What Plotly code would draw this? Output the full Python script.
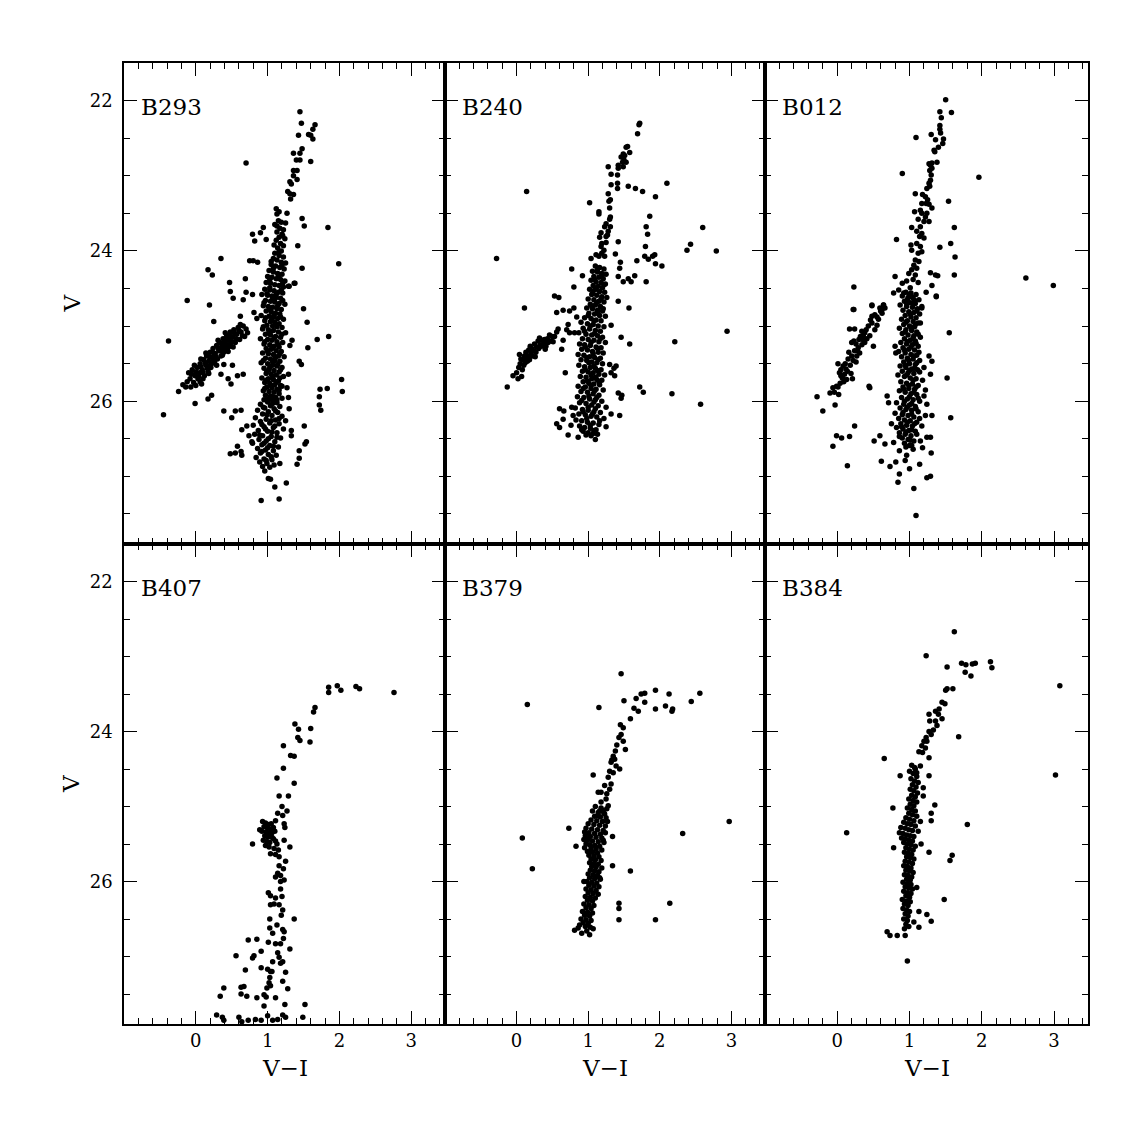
import plotly.graph_objects as go

# ---------------- data (V-I, V) ----------------
panel_names = ["B293", "B240", "B012", "B407", "B379", "B384"]

b293 = [
    # upper RGB
    (1.45,22.15),(1.47,22.30),(1.66,22.32),(1.63,22.38),(1.57,22.45),(1.60,22.46),(1.43,22.46),(1.63,22.51),
    (1.36,22.70),(1.45,22.70),(1.48,22.64),(1.40,22.79),(1.45,22.79),(1.60,22.81),(0.70,22.83),(1.36,22.93),
    (1.41,22.93),(1.36,23.00),(1.41,23.05),(1.31,23.08),(1.33,23.11),(1.28,23.21),(1.31,23.24),(1.36,23.25),
    (1.32,23.31),(1.12,23.44),(1.16,23.48),(1.27,23.50),(1.13,23.51),(1.48,23.57),(1.51,23.67),(1.84,23.69),
    # V 23.6-24.5
    (1.15,23.60),(1.19,23.62),(1.10,23.65),(1.25,23.63),(1.17,23.70),(1.22,23.72),(1.13,23.75),(1.20,23.78),
    (1.16,23.82),(1.24,23.84),(1.12,23.86),(1.18,23.90),(1.22,23.93),(1.14,23.96),(1.19,24.00),(1.10,24.03),
    (1.16,24.06),(1.22,24.08),(1.08,24.10),(1.13,24.12),(1.19,24.15),(1.25,24.16),(1.05,24.18),(1.11,24.20),
    (1.17,24.22),(1.23,24.24),(1.02,24.26),(1.08,24.28),(1.14,24.30),(1.20,24.31),(1.00,24.34),(1.06,24.35),
    (1.12,24.37),(1.18,24.38),(1.24,24.40),(0.98,24.42),(1.04,24.43),(1.10,24.45),(1.16,24.46),(1.22,24.48),
    (1.13,23.67),(1.21,23.80),(1.09,23.92),(1.16,24.01),(1.05,24.14),(1.20,24.19),(1.08,24.23),(1.15,24.33),
    (1.03,24.38),(1.21,24.43),
    (0.79,23.78),(0.90,23.76),(0.94,23.69),(0.82,23.87),(0.98,23.85),(1.42,23.93),(1.48,24.23),(1.99,24.17),
    (0.35,24.10),(0.17,24.25),(0.23,24.32),(0.75,24.13),(0.80,24.13),(0.86,24.15),(0.69,24.37),(1.37,24.43),
    (1.29,24.47),(0.47,24.42),(0.48,24.54),(1.30,24.47),(1.38,24.43),
    # main column 24.5-26.0
    (0.96,24.51),(1.03,24.52),(1.09,24.53),(1.15,24.55),(1.21,24.56),(0.92,24.58),(1.00,24.59),(1.06,24.60),
    (1.12,24.62),(1.18,24.63),(0.97,24.66),(1.04,24.67),(1.10,24.68),(1.16,24.70),(1.24,24.71),(0.94,24.73),
    (1.01,24.74),(1.07,24.75),(1.13,24.77),(1.19,24.78),(0.98,24.80),(1.05,24.81),(1.11,24.83),(1.17,24.84),
    (0.91,24.86),(1.02,24.87),(1.08,24.88),(1.14,24.90),(1.22,24.91),(0.96,24.93),(1.04,24.94),(1.10,24.95),
    (1.16,24.97),(0.99,24.99),(1.07,25.00),(1.13,25.01),(1.20,25.02),
    (0.93,25.04),(1.01,25.05),(1.08,25.06),(1.15,25.08),(1.25,25.09),(0.97,25.11),(1.04,25.12),(1.11,25.14),
    (1.18,25.15),(0.90,25.17),(1.00,25.18),(1.06,25.19),(1.13,25.21),(1.21,25.22),(0.95,25.24),(1.03,25.25),
    (1.09,25.27),(1.16,25.28),(0.98,25.30),(1.05,25.31),(1.12,25.33),(1.19,25.34),(0.93,25.36),(1.01,25.37),
    (1.08,25.38),(1.15,25.40),(1.23,25.41),(0.97,25.43),(1.04,25.44),(1.10,25.46),(1.17,25.47),(0.91,25.49),
    (1.00,25.50),
    (1.07,25.52),(1.13,25.53),(1.20,25.55),(0.95,25.56),(1.02,25.58),(1.09,25.59),(1.16,25.61),(0.98,25.63),
    (1.05,25.64),(1.12,25.65),(1.22,25.67),(0.92,25.69),(1.01,25.70),(1.08,25.71),(1.15,25.73),(0.96,25.75),
    (1.03,25.76),(1.10,25.78),(1.18,25.79),(0.99,25.81),(1.06,25.82),(1.13,25.84),(0.94,25.86),(1.02,25.87),
    (1.09,25.88),(1.16,25.90),(0.97,25.92),(1.04,25.93),(1.11,25.95),(1.20,25.96),(0.95,25.98),(1.07,25.99),
    (1.03,24.49),(1.19,24.52),(0.99,24.57),(1.12,24.58),(1.07,24.64),(1.21,24.66),(0.95,24.69),(1.14,24.73),
    (1.03,24.78),(1.09,24.85),(0.97,24.89),(1.18,24.88),(1.06,24.92),(1.12,24.98),(0.94,25.01),(1.03,25.09),
    (1.20,25.11),(1.09,25.16),(0.96,25.21),(1.15,25.25),(1.07,25.29),(1.00,25.34),(1.17,25.37),(1.11,25.42),
    (0.94,25.46),(1.07,25.48),(1.14,25.51),(1.03,25.55),(1.18,25.58),(0.99,25.60),(1.07,25.67),(1.17,25.69),
    (0.98,25.72),(1.12,25.75),(1.05,25.79),(0.96,25.83),(1.16,25.85),(1.07,25.94),(1.01,25.97),(1.13,25.98),
    # lower, wider part
    (1.00,26.01),(1.13,26.02),(0.90,26.04),(1.04,26.06),(1.17,26.07),(0.96,26.09),(1.09,26.10),(0.86,26.12),
    (1.01,26.14),(1.14,26.15),(0.93,26.17),(1.06,26.19),(1.20,26.20),(0.83,26.22),(0.98,26.24),(1.11,26.25),
    (0.90,26.27),(1.03,26.29),(1.16,26.30),(0.80,26.32),(0.95,26.34),(1.08,26.35),(1.22,26.37),(0.87,26.39),
    (1.00,26.40),(1.13,26.42),(0.82,26.44),(0.93,26.46),(1.05,26.47),(1.18,26.49),(0.88,26.51),(0.98,26.53),
    (1.10,26.54),(0.79,26.56),(0.92,26.58),(1.03,26.59),(1.15,26.61),(0.86,26.63),(0.97,26.65),(1.08,26.66),
    (0.90,26.69),(1.01,26.71),(1.12,26.72),(0.84,26.75),(0.95,26.77),(1.06,26.78),(0.89,26.81),(0.99,26.83),
    (0.93,26.87),(1.03,26.88),(0.96,26.93),(1.01,27.03),(1.04,27.04),(1.10,27.14),(0.91,27.32),(1.16,27.30),
    (1.07,26.03),(0.94,26.08),(1.11,26.13),(0.99,26.18),(1.16,26.23),(1.05,26.26),(0.92,26.31),(1.10,26.33),
    (0.97,26.37),(1.06,26.41),(0.89,26.45),(1.13,26.48),(1.01,26.50),(0.95,26.56),(1.08,26.60),(1.00,26.62),
    (0.92,26.67),(1.05,26.74),(0.98,26.79),(1.09,26.85),
    # blue horizontal-branch arm
    (-0.24,25.87),(-0.14,25.81),(-0.10,25.62),(-0.08,25.70),(-0.05,25.58),(-0.03,25.75),(-0.01,25.66),(0.02,25.55),
    (0.03,25.70),(0.05,25.62),(0.06,25.50),(0.08,25.77),(0.09,25.58),(0.11,25.45),(0.12,25.66),(0.14,25.52),
    (0.15,25.40),(0.17,25.60),(0.18,25.47),(0.20,25.35),(0.21,25.55),(0.23,25.42),(0.24,25.30),(0.26,25.48),
    (0.27,25.37),(0.29,25.26),(0.30,25.44),(0.32,25.33),(0.33,25.22),(0.35,25.40),(0.36,25.28),(0.38,25.17),
    (0.39,25.35),(0.41,25.24),(0.43,25.13),(0.44,25.30),(0.46,25.19),(0.48,25.08),(0.49,25.27),(0.51,25.15),
    (0.53,25.05),(0.55,25.22),(0.57,25.11),(0.59,25.02),(0.61,25.18),(0.63,25.08),(0.66,25.00),(0.68,25.14),
    (0.70,25.04),(0.00,25.61),(0.07,25.54),(0.13,25.49),(0.19,25.41),(0.25,25.36),(0.31,25.29),(0.37,25.23),
    (0.42,25.19),(0.47,25.13),(0.54,25.10),(-0.06,25.64),(0.10,25.70),(0.22,25.50),
    (-0.18,25.78),(-0.12,25.74),(-0.07,25.81),(0.00,25.79),(0.04,25.67),(0.07,25.44),(0.10,25.62),(0.16,25.56),
    (0.19,25.53),(0.24,25.44),(0.28,25.41),(0.31,25.19),(0.34,25.33),(0.40,25.30),(0.45,25.25),(0.50,25.21),
    (0.56,25.17),(0.60,25.06),(0.65,25.13),(0.72,25.09),(0.14,25.36),(-0.02,25.52),(0.06,25.74),(0.18,25.63),
    (0.29,25.52),(0.37,25.39),(0.45,25.34),(0.52,25.28),(0.62,24.98),(0.41,25.09),
    # scattered stars
    (-0.12,24.66),(0.19,24.72),(0.52,24.63),(0.66,24.65),(0.70,24.55),(0.79,24.58),(1.50,24.77),(1.55,24.95),
    (-0.38,25.20),(0.25,24.94),(0.62,24.87),(0.81,24.82),(0.85,24.90),(1.69,25.18),(1.85,25.14),(1.56,25.29),
    (1.34,25.19),(1.31,25.26),(1.44,25.47),(1.47,25.51),(-0.45,26.18),(-0.01,26.03),(0.17,25.97),(0.22,25.92),
    (0.39,26.13),(0.50,26.22),(0.55,26.13),(0.63,26.12),(0.39,25.51),(0.51,25.52),(0.35,25.64),(0.45,25.70),
    (0.49,25.77),(0.58,25.66),(0.66,25.64),(1.73,25.84),(1.83,25.83),(2.03,25.71),(2.04,25.87),(1.72,25.94),
    (1.72,26.05),(1.74,26.12),(1.29,25.64),(1.20,25.80),(1.27,25.82),(1.29,25.95),(1.30,26.10),(1.25,26.26),
    (1.33,26.39),(1.33,26.46),(1.51,26.33),(1.52,26.57),(1.54,26.54),(1.44,26.66),(1.44,26.76),(1.41,26.84),
    (1.26,27.09),(1.17,26.83),(0.48,26.70),(0.55,26.69),(0.58,26.60),(0.63,26.67),(0.64,26.72),(0.64,26.38),
    (0.71,26.33),(0.74,26.46),(0.78,26.54),
]

b240 = [
    # upper RGB and AGB
    (1.72,22.30),(1.71,22.32),(1.69,22.44),(1.55,22.61),(1.53,22.62),(1.58,22.69),(1.49,22.71),(1.51,22.73),
    (1.46,22.75),(1.50,22.79),(1.53,22.82),(1.48,22.82),(1.28,22.88),(1.42,22.86),(1.49,22.88),(1.42,22.90),
    (1.32,22.98),(1.41,22.99),(2.10,23.10),(1.32,23.12),(1.41,23.10),(1.41,23.17),(1.56,23.14),(1.66,23.17),
    (1.76,23.21),(0.14,23.21),(1.94,23.28),(1.28,23.24),(1.29,23.34),(1.31,23.32),(1.02,23.36),(1.30,23.43),
    (1.15,23.48),(1.15,23.51),(1.31,23.55),(1.30,23.58),(1.86,23.54),(1.25,23.64),(1.23,23.68),(1.31,23.68),
    (1.81,23.68),(2.60,23.69),(1.18,23.76),(1.28,23.74),(1.27,23.79),(1.16,23.82),(1.25,23.81),(1.83,23.78),
    (1.19,23.90),(1.25,23.89),(1.42,23.88),(2.43,23.91),(2.38,23.99),(2.79,24.00),(1.80,23.94),(1.79,24.07),
    (1.84,24.11),(1.90,24.07),(1.93,24.05),(1.94,24.17),(2.03,24.20),(1.68,24.13),(-0.28,24.10),(1.18,23.94),
    (1.22,23.99),(1.19,24.03),(1.23,24.07),(1.15,24.07),(1.04,24.10),(1.11,24.05),(1.38,24.04),(1.45,24.15),
    (1.44,24.23),(1.42,24.34),(1.49,24.41),(1.56,24.37),(1.60,24.41),(1.65,24.33),(1.81,24.41),
    (0.77,24.24),(0.92,24.33),(0.80,24.48),(0.53,24.60),(0.59,24.62),(0.11,24.76),(0.56,24.82),(0.65,24.79),
    (0.74,24.80),(0.80,24.76),(0.84,24.88),(1.42,24.67),(1.57,24.76),
    # clump and column
    (1.10,24.20),(1.16,24.22),(1.22,24.24),(1.06,24.27),(1.13,24.28),(1.19,24.30),(1.25,24.31),(1.08,24.34),
    (1.15,24.35),(1.21,24.37),(1.04,24.39),(1.11,24.41),(1.18,24.42),(1.24,24.44),(1.07,24.46),(1.14,24.47),
    (1.20,24.49),(1.02,24.51),(1.09,24.52),(1.16,24.54),(1.23,24.55),(1.05,24.58),(1.12,24.59),(1.19,24.61),
    (1.26,24.62),(1.00,24.64),(1.08,24.65),(1.15,24.67),(1.22,24.68),(1.03,24.71),(1.10,24.72),(1.17,24.74),
    (0.98,24.76),(1.06,24.77),(1.13,24.79),(1.20,24.80),(1.01,24.83),(1.09,24.84),(1.16,24.86),(1.24,24.87),
    (0.95,24.89),(1.04,24.90),
    (1.11,24.92),(1.18,24.93),(0.90,24.95),(0.99,24.97),(1.07,24.98),(1.14,25.00),(1.22,25.01),(0.93,25.03),
    (1.02,25.04),(1.10,25.06),(1.17,25.07),(0.87,25.09),(0.97,25.11),(1.05,25.12),(1.13,25.13),(1.20,25.15),
    (0.92,25.17),(1.00,25.18),(1.08,25.19),(1.15,25.21),(1.24,25.22),(0.88,25.24),(0.95,25.25),(1.03,25.26),
    (1.11,25.28),(1.18,25.29),(0.91,25.31),(0.99,25.32),(1.06,25.34),(1.14,25.35),(1.21,25.36),(0.86,25.38),
    (0.94,25.39),(1.02,25.41),(1.09,25.42),(1.17,25.43),(0.90,25.45),(0.98,25.46),(1.05,25.48),(1.12,25.49),
    (1.20,25.50),(0.87,25.52),(0.95,25.54),(1.03,25.55),(1.10,25.56),(1.18,25.58),(0.92,25.60),(1.00,25.61),
    (1.07,25.62),(1.15,25.64),(1.23,25.65),(0.89,25.67),(0.97,25.68),(1.05,25.70),(1.12,25.71),(1.19,25.72),
    (0.93,25.74),(1.01,25.76),(1.08,25.77),(1.16,25.78),(0.86,25.80),(0.96,25.81),(1.04,25.83),(1.11,25.84),
    (1.21,25.85),(0.90,25.87),(0.99,25.88),(1.07,25.90),
    (1.15,25.92),(0.85,25.94),(0.94,25.95),(1.02,25.97),(1.10,25.98),(1.19,26.00),(0.88,26.02),(0.97,26.03),
    (1.05,26.05),(1.14,26.06),(1.25,26.08),(0.82,26.09),(0.92,26.11),(1.00,26.12),(1.08,26.14),(1.17,26.15),
    (0.87,26.17),(0.96,26.18),(1.04,26.20),(1.12,26.21),(1.22,26.23),(0.83,26.25),(0.91,26.26),(0.99,26.28),
    (1.07,26.29),(1.15,26.31),(0.88,26.33),(0.95,26.35),(1.03,26.36),(1.11,26.38),(0.93,26.40),(1.00,26.42),
    (1.07,26.43),(0.97,26.45),(1.13,26.44),
    (1.13,24.25),(1.19,24.33),(1.09,24.38),(1.22,24.45),(1.11,24.50),(1.06,24.56),(1.18,24.64),(1.12,24.69),
    (1.05,24.74),(1.21,24.77),(1.13,24.82),(1.00,24.86),(1.08,24.93),(1.03,25.00),(0.95,25.07),(1.09,25.10),
    (1.17,25.17),(1.04,25.22),(0.96,25.28),(1.13,25.30),(1.07,25.37),(0.98,25.42),(1.14,25.45),(1.01,25.49),
    (1.08,25.53),(0.96,25.58),(1.13,25.59),(1.04,25.65),(1.10,25.68),(0.99,25.73),(1.15,25.74),(1.04,25.79),
    (0.93,25.83),(1.09,25.86),(1.01,25.93),(1.12,25.95),(0.91,25.99),(1.08,26.01),(1.00,26.08),(1.10,26.10),
    (0.93,26.14),(1.06,26.17),(0.98,26.23),(1.16,26.26),(1.03,26.32),(0.91,26.38),(1.08,26.39),
    # lower scattered
    (1.10,26.51),(0.86,26.48),(0.72,26.45),(1.04,26.46),(0.56,26.30),(0.60,26.35),(0.65,26.24),(0.60,26.10),
    (0.66,26.13),(0.77,26.08),(0.79,26.19),(0.76,26.32),(1.25,26.34),(1.32,26.17),(1.44,26.19),(1.42,25.89),
    (1.47,25.92),(1.46,25.96),(1.36,25.56),(1.32,25.62),(1.30,25.51),(1.39,25.53),(1.37,25.66),(1.72,25.81),
    (1.77,25.88),(2.17,25.90),(2.57,26.04),(0.68,25.62),(2.94,25.07),(2.21,25.21),(1.46,25.15),(1.58,25.24),
    (1.32,24.99),(0.65,25.19),(0.74,25.09),(0.81,25.09),(0.70,25.05),(0.72,24.98),(0.63,25.31),
    # blue arm
    (-0.13,25.81),(-0.05,25.66),(0.07,25.67),(0.00,25.62),(0.03,25.55),(0.04,25.38),(0.05,25.50),(0.08,25.58),
    (0.09,25.45),(0.10,25.52),(0.11,25.40),(0.12,25.49),(0.13,25.35),(0.14,25.44),(0.16,25.40),(0.17,25.32),
    (0.18,25.45),(0.20,25.36),(0.21,25.30),(0.22,25.40),(0.24,25.33),(0.25,25.24),(0.27,25.35),(0.28,25.28),
    (0.30,25.20),(0.31,25.30),(0.33,25.25),(0.35,25.27),(0.36,25.19),(0.38,25.23),(0.39,25.18),(0.41,25.27),
    (0.43,25.17),(0.44,25.22),(0.46,25.12),(0.48,25.20),(0.50,25.14),(0.51,25.21),(0.53,25.14),(0.56,25.08),
    (0.58,25.04),(0.02,25.70),(0.06,25.44),(0.15,25.47),(0.19,25.27),(0.26,25.41),(0.32,25.16),(0.40,25.31),
]

b012 = [
    # upper RGB
    (1.50,21.99),(1.42,22.15),(1.58,22.16),(1.44,22.23),(1.42,22.33),(1.42,22.38),(1.43,22.43),(1.30,22.45),
    (1.36,22.52),(1.47,22.51),(1.46,22.57),(1.09,22.49),(1.40,22.62),(1.34,22.66),(1.35,22.68),(1.27,22.84),
    (1.29,22.86),(1.31,22.83),(1.38,22.82),(1.28,22.93),(1.31,22.90),(0.90,22.97),(1.96,23.02),(1.30,22.99),
    (1.29,23.06),(1.27,23.10),(1.24,23.17),(1.28,23.14),(1.08,23.24),(1.18,23.25),(1.22,23.28),(1.25,23.32),
    (1.17,23.37),(1.23,23.37),(1.27,23.38),(1.31,23.43),(1.15,23.46),(1.54,23.34),(1.07,23.48),(1.17,23.50),
    (1.24,23.50),(1.22,23.55),(1.12,23.58),(1.20,23.61),(1.27,23.61),(1.03,23.69),(1.15,23.68),(1.10,23.74),
    (1.17,23.77),(1.14,23.81),(1.20,23.83),(1.62,23.69),(0.82,23.85),(1.02,23.92),(1.10,23.90),(1.15,23.94),
    (1.03,23.99),(1.17,24.01),(1.12,24.03),(1.57,23.90),(1.42,23.95),(1.63,24.08),(1.08,24.12),(1.13,24.14),
    (1.06,24.19),(1.03,24.25),(1.10,24.23),(0.99,24.30),(1.08,24.32),(0.80,24.34),(1.29,24.29),(1.36,24.32),
    (1.39,24.33),(1.62,24.32),(1.31,24.46),(1.23,24.55),(1.37,24.60),(2.61,24.36),(2.99,24.46),(0.23,24.48),
    (0.90,24.43),(0.85,24.52),(0.78,24.56),(0.92,24.56),(1.01,24.49),(1.03,24.61),(0.97,24.65),(1.06,24.69),
    (1.17,24.76),(0.64,24.72),(0.48,24.73),(0.62,24.78),(0.23,24.78),(1.05,24.38),(1.12,24.42),(0.96,24.40),
    # blue arm
    (-0.28,25.94),(-0.20,26.13),(-0.03,26.05),(-0.10,25.89),(-0.06,25.82),(0.01,25.81),(0.02,25.91),(-0.01,25.80),
    (0.01,25.50),(0.08,25.53),(0.05,25.58),(0.10,25.64),(0.07,25.69),(0.13,25.71),(0.09,25.74),(0.21,25.70),
    (0.19,25.63),(0.15,25.44),(0.20,25.40),(0.24,25.33),(0.29,25.29),(0.34,25.25),(0.27,25.40),(0.38,25.22),
    (0.31,25.36),(0.20,25.22),(0.23,25.20),(0.17,25.04),(0.24,25.04),(0.34,25.07),(0.38,25.09),(0.43,25.00),
    (0.48,24.96),(0.36,25.13),(0.45,25.13),(0.50,25.27),(0.52,25.05),(0.57,24.91),(0.62,24.83),(0.66,24.76),
    (0.59,24.76),(0.48,24.72),(0.64,24.72),(0.22,24.78),(0.48,24.87),(0.52,24.85),(0.44,25.80),(0.45,25.82),
    (0.12,25.57),(0.18,25.52),(0.26,25.48),(0.30,25.18),(0.41,25.17),(0.55,24.99),(0.05,25.66),(0.14,25.60),
    (-0.01,26.46),(0.06,26.49),(0.17,26.47),(0.24,26.33),(-0.06,26.60),(0.14,26.86),
    (0.03,25.62),(0.11,25.50),(0.16,25.35),(0.26,25.24),(0.32,25.14),(0.40,25.05),(0.46,24.92),(0.55,24.88),
    (0.60,24.80),(0.35,25.18),(0.28,25.33),(0.22,25.46),(-0.04,25.88),(0.04,25.76),
    # main column
    (0.95,24.55),(1.02,24.56),(1.09,24.58),(0.90,24.60),(0.98,24.62),(1.05,24.63),(1.13,24.65),(0.93,24.67),
    (1.01,24.69),(1.08,24.70),(0.87,24.72),(0.96,24.74),(1.04,24.75),(1.11,24.77),(0.91,24.79),(0.99,24.81),
    (1.06,24.82),(1.14,24.84),(0.94,24.86),(1.02,24.88),(1.09,24.89),(0.89,24.91),(0.97,24.93),(1.05,24.94),
    (1.12,24.96),(0.92,24.98),(1.00,25.00),(1.07,25.01),(0.86,25.03),(0.95,25.05),(1.03,25.06),(1.10,25.08),
    (0.90,25.10),(0.98,25.12),(1.06,25.13),(1.15,25.15),(0.93,25.17),(1.01,25.19),(1.08,25.20),(0.88,25.22),
    (0.96,25.24),(1.04,25.25),(1.12,25.27),(0.91,25.29),(0.99,25.31),(1.07,25.32),(0.85,25.34),(0.94,25.36),
    (1.02,25.38),(1.10,25.39),(0.89,25.41),(0.97,25.43),(1.05,25.44),(1.14,25.46),(0.92,25.48),(1.00,25.50),
    (1.08,25.51),(0.87,25.53),(0.95,25.55),(1.03,25.57),(1.11,25.58),(0.90,25.60),(0.98,25.62),(1.06,25.63),
    (0.84,25.65),(0.93,25.67),(1.01,25.69),(1.09,25.70),(1.18,25.72),(0.88,25.74),(0.96,25.76),(1.04,25.77),
    (1.12,25.79),(0.91,25.81),(0.99,25.83),(1.07,25.84),(0.86,25.86),(0.94,25.88),(1.02,25.90),(1.10,25.91),
    (1.20,25.93),(0.89,25.95),(0.97,25.97),(1.05,25.98),(1.14,26.00),(0.82,26.02),(0.92,26.04),(1.00,26.05),
    (1.08,26.07),(0.87,26.09),(0.95,26.11),(1.03,26.12),(1.12,26.14),(0.80,26.16),(0.90,26.18),(0.98,26.19),
    (1.06,26.21),(0.85,26.23),(0.93,26.25),(1.01,26.26),(1.10,26.28),(0.88,26.30),(0.96,26.32),(1.04,26.33),
    (0.82,26.35),(0.91,26.37),(0.99,26.39),(1.08,26.40),(0.86,26.42),(0.94,26.44),(1.02,26.46),(0.90,26.49),
    (0.98,26.51),(1.06,26.53),(0.93,26.56),(1.00,26.59),
    (1.00,24.58),(1.07,24.66),(0.96,24.70),(1.10,24.80),(1.01,24.84),(0.95,24.95),(1.08,24.98),(1.02,25.02),
    (0.94,25.08),(1.12,25.11),(1.05,25.16),(0.97,25.21),(1.09,25.23),(1.02,25.28),(0.93,25.32),(1.13,25.35),
    (1.06,25.40),(0.99,25.46),(1.10,25.49),(0.94,25.52),(1.07,25.56),(1.00,25.59),(1.14,25.61),(0.96,25.65),
    (1.05,25.72),(0.99,25.79),(1.09,25.81),(0.92,25.84),(1.06,25.88),(1.00,25.94),(1.12,25.96),(0.93,26.00),
    (1.03,26.03),(0.97,26.08),(1.09,26.10),(0.91,26.15),(1.03,26.17),(1.14,26.23),(0.97,26.28),(1.07,26.30),
    (0.89,26.34),(1.03,26.38),(0.95,26.41),(1.10,26.44),(0.86,26.47),(1.01,26.52),(0.95,26.61),(1.05,26.64),
    # lower and scattered
    (1.09,27.52),(1.06,27.16),(0.84,27.08),(1.24,27.02),(1.29,27.00),(1.30,26.69),(1.14,26.84),(0.73,26.87),
    (0.61,26.80),(0.86,26.97),(0.81,26.81),(0.94,26.79),(0.96,26.72),(0.51,26.53),(0.66,26.57),(0.59,26.46),
    (0.78,26.55),(0.86,26.66),(1.03,26.59),(1.15,26.53),(1.24,26.48),(1.29,26.48),(1.55,25.09),(1.52,25.69),
    (1.57,26.22),(1.37,24.61),(1.17,24.74),(1.15,24.96),(1.27,25.40),(1.31,25.47),(1.29,25.64),(1.31,26.19),
    (1.24,26.04),(1.17,26.33),(1.22,26.19),(0.80,25.27),(0.81,25.36),(0.69,25.93),(0.71,26.02),(1.20,25.55),
    (1.22,25.85),(0.75,26.30),(1.18,26.62),(1.00,26.90),
]

b407 = [
    (1.85,23.41),(1.85,23.48),(1.97,23.39),(2.02,23.45),(2.23,23.40),(2.28,23.43),(2.76,23.48),(1.66,23.68),
    (1.64,23.74),(1.38,23.90),(1.43,23.97),(1.60,23.96),(1.42,24.08),(1.45,24.12),(1.59,24.14),(1.22,24.19),
    (1.32,24.32),(1.37,24.33),(1.22,24.49),(1.13,24.62),(1.37,24.69),(1.16,24.86),(1.29,24.86),(1.20,25.00),
    (1.27,25.06),(1.21,25.12),(1.14,25.09),(1.11,25.19),(1.23,25.23),(1.24,25.28),(0.89,25.31),(0.79,25.50),
    (1.31,25.54),(1.23,25.45),
    (0.93,25.20),(0.97,25.22),(1.01,25.24),(1.05,25.23),(0.95,25.27),(1.00,25.29),(1.04,25.30),(1.08,25.28),
    (0.92,25.33),(0.98,25.34),(1.02,25.36),(1.06,25.35),(1.10,25.33),(0.96,25.39),(1.00,25.41),(1.04,25.40),
    (1.08,25.43),(0.94,25.45),(0.99,25.47),(1.03,25.48),(1.11,25.46),(0.97,25.52),(1.02,25.54),(1.13,25.50),
    (1.06,25.41),
    (1.04,25.63),(1.11,25.64),(1.16,25.67),(1.25,25.73),(1.22,25.83),(1.16,25.79),(1.18,25.92),(1.11,25.94),
    (1.14,25.89),(1.23,25.98),(1.18,26.00),(1.18,26.10),(1.20,26.20),(1.01,26.15),(1.04,26.19),(1.11,26.22),
    (1.09,26.30),(1.04,26.31),(1.16,26.31),(1.21,26.38),(1.37,26.50),(1.03,26.50),(1.03,26.62),(1.07,26.69),
    (1.21,26.64),(1.23,26.67),(1.22,26.76),(1.11,26.83),(1.18,26.83),(1.01,26.81),(1.31,26.90),(0.73,26.78),
    (0.85,26.77),(0.91,26.93),(0.79,27.02),(0.81,26.99),(0.56,26.99),(0.69,27.18),(0.91,27.15),(1.00,27.17),
    (1.04,27.20),(1.14,26.95),(1.16,27.01),(1.18,27.09),(1.21,27.07),(1.25,27.21),(1.07,27.07),(1.06,27.20),
    (1.03,27.28),(1.02,27.35),(1.04,27.39),(0.99,27.42),(1.21,27.33),(1.28,27.43),(0.39,27.42),(0.34,27.53),
    (0.63,27.41),(0.63,27.50),(0.67,27.40),(0.71,27.53),(0.85,27.55),(0.95,27.51),(0.98,27.54),(1.11,27.55),
    (0.95,27.66),(1.24,27.64),(1.52,27.64),(0.29,27.78),(0.37,27.81),(0.39,27.85),(0.60,27.81),(0.73,27.85),
    (0.91,27.85),(1.00,27.79),(1.07,27.85),(1.14,27.84),(1.21,27.78),(1.25,27.81),(1.49,27.81),(1.09,25.56),
    (1.15,25.58),(1.19,26.45),(1.13,26.58),(0.83,27.84),(0.64,27.87),
]

b379 = [
    (1.46,23.23),(1.94,23.45),(1.79,23.49),(1.74,23.50),(1.67,23.56),(1.50,23.59),(2.13,23.50),(2.56,23.49),
    (2.44,23.60),(2.08,23.66),(1.94,23.70),(2.18,23.70),(2.17,23.73),(1.79,23.61),(1.64,23.69),(1.70,23.73),
    (0.15,23.64),(1.15,23.68),(1.59,23.83),(1.45,23.91),(1.49,23.95),(1.46,24.04),(1.43,24.08),(1.49,24.13),
    (1.52,24.24),(1.38,24.26),(1.35,24.33),(1.37,24.37),(1.32,24.41),(1.39,24.46),(1.44,24.50),(1.30,24.53),
    (1.35,24.55),(1.28,24.61),(1.07,24.58),(1.32,24.70),(1.23,24.72),(1.30,24.77),(1.18,24.81),(1.26,24.83),
    (1.14,24.81),(1.25,24.90),(1.18,24.94),(1.28,24.99),(1.16,25.06),(1.23,25.10),(1.14,25.12),(2.97,25.20),
    (2.32,25.36),(0.73,25.29),(0.08,25.42),(0.83,25.53),(0.22,25.83),(1.34,25.40),(1.34,25.79),(1.59,25.86),
    (0.94,26.00),(1.43,26.29),(1.43,26.36),(1.43,26.51),(1.94,26.51),(2.14,26.29),(1.33,24.38),(1.40,24.18),
    (1.10,25.00),(1.18,25.02),(1.26,25.03),(1.06,25.06),(1.14,25.08),(1.22,25.09),(1.09,25.13),(1.17,25.14),
    (1.25,25.15),(1.04,25.18),(1.12,25.19),(1.20,25.20),(1.00,25.23),(1.08,25.24),(1.16,25.25),(1.24,25.26),
    (0.97,25.29),(1.05,25.30),(1.13,25.31),(1.21,25.32),(0.95,25.34),(1.01,25.35),(1.09,25.36),(1.17,25.37),
    (0.96,25.39),(1.03,25.40),(1.11,25.41),(1.19,25.42),(0.94,25.44),(0.99,25.45),(1.06,25.46),(1.14,25.47),
    (1.22,25.48),(0.97,25.50),(1.02,25.51),(1.09,25.52),(1.16,25.53),(0.95,25.55),(1.04,25.56),(1.11,25.57),
    (1.19,25.58),(0.99,25.60),(1.06,25.61),(1.13,25.62),(1.01,25.65),(1.08,25.66),(1.15,25.67),(1.04,25.70),
    (1.10,25.71),(1.18,25.72),(1.02,25.75),(1.08,25.76),(1.14,25.77),(1.05,25.80),(1.11,25.81),(1.19,25.82),
    (1.03,25.85),(1.09,25.86),(1.15,25.87),(1.00,25.90),(1.07,25.91),(1.13,25.92),(1.02,25.95),(1.09,25.96),
    (1.17,25.97),(0.98,26.00),(1.05,26.01),(1.12,26.02),(1.01,26.05),(1.08,26.06),(1.15,26.07),(0.97,26.10),
    (1.04,26.11),(1.11,26.12),(1.00,26.15),(1.07,26.16),(1.14,26.17),(0.96,26.20),(1.03,26.21),(1.10,26.22),
    (0.99,26.25),(1.06,26.26),(0.94,26.30),(1.01,26.31),(1.08,26.32),(0.97,26.35),(1.04,26.36),(0.92,26.40),
    (0.99,26.41),(1.06,26.42),(0.95,26.45),(1.02,26.46),(0.90,26.50),(0.97,26.51),(1.04,26.52),(0.93,26.55),
    (1.00,26.56),(0.88,26.58),(0.96,26.60),(1.03,26.61),(0.81,26.65),(0.86,26.62),(0.91,26.69),(1.02,26.71),
    (1.07,26.63),(0.98,26.66),(1.20,25.05),(1.27,25.20),(1.21,25.45),(1.24,25.35),(1.00,25.43),(1.16,25.95),
]

b384 = [
    (1.62,22.67),(1.23,22.99),(1.52,23.14),(1.72,23.09),(1.78,23.11),(1.87,23.10),(1.91,23.09),(1.77,23.21),
    (1.85,23.26),(2.12,23.07),(2.14,23.15),(3.08,23.39),(1.50,23.45),(1.52,23.43),(1.60,23.43),(1.45,23.61),
    (1.49,23.63),(1.41,23.70),(1.36,23.73),(1.40,23.77),(1.45,23.83),(1.27,23.77),(1.28,23.86),(1.36,23.86),
    (1.38,23.92),(1.68,24.07),(1.27,24.00),(1.30,24.04),(1.23,24.08),(1.20,24.13),(1.17,24.19),(1.24,24.13),
    (1.13,24.27),(1.18,24.28),(1.27,24.35),(0.65,24.36),(3.02,24.58),(0.87,24.59),(1.00,24.53),(1.07,24.48),
    (1.10,24.55),(1.27,24.59),(1.15,24.46),(1.19,24.75),(1.19,24.86),(1.35,24.98),(1.30,25.09),(1.30,25.19),
    (1.15,25.20),(1.80,25.24),(0.77,25.02),(0.13,25.35),(0.78,25.55),(1.27,25.61),(1.59,25.65),(1.56,25.72),
    (1.16,25.50),(1.10,26.08),(1.48,26.24),(1.13,26.40),(1.24,26.44),(1.30,26.53),(1.13,26.61),(1.06,26.54),
    (0.69,26.67),(0.73,26.72),(0.83,26.72),(0.94,26.72),(0.97,27.06),(1.33,23.98),(1.22,24.22),
    (1.03,24.45),(1.08,24.50),(1.05,24.56),(1.10,24.60),(1.02,24.63),(1.07,24.66),(1.12,24.68),(1.04,24.71),
    (1.09,24.74),(1.01,24.77),(1.06,24.79),(1.11,24.82),(1.03,24.85),(1.08,24.87),(0.99,24.90),(1.05,24.92),
    (1.10,24.94),(1.01,24.97),(1.06,24.99),(0.97,25.02),(1.03,25.04),(1.08,25.06),(0.99,25.09),(1.04,25.11),
    (1.10,25.13),(0.95,25.15),(1.00,25.17),(1.06,25.19),(0.92,25.21),(0.97,25.23),(1.02,25.24),(1.08,25.26),
    (0.88,25.28),(0.94,25.29),(0.99,25.31),(1.04,25.32),(1.12,25.33),(0.86,25.35),(0.91,25.36),(0.96,25.38),
    (1.01,25.39),(1.06,25.40),(0.89,25.42),(0.94,25.43),(0.99,25.45),(1.04,25.46),(0.92,25.48),(0.97,25.50),
    (1.02,25.51),(1.08,25.53),(0.95,25.55),(1.00,25.57),(1.05,25.58),(0.93,25.61),(0.98,25.62),(1.03,25.64),
    (0.96,25.67),(1.01,25.68),(1.06,25.70),(0.94,25.73),(0.99,25.74),(1.04,25.76),(0.92,25.79),(0.97,25.80),
    (1.02,25.82),(0.95,25.85),(1.00,25.86),(1.05,25.88),(0.93,25.91),(0.98,25.92),(1.03,25.94),(0.96,25.97),
    (1.01,25.98),(0.91,26.01),(0.97,26.03),(1.02,26.04),(0.94,26.07),(0.99,26.09),(1.04,26.10),(0.92,26.13),
    (0.97,26.15),(1.02,26.16),(0.95,26.19),(1.00,26.21),(0.90,26.24),(0.96,26.26),(1.01,26.27),(0.93,26.30),
    (0.98,26.32),(0.91,26.36),(0.96,26.38),(1.00,26.40),(0.94,26.43),(0.98,26.46),(0.92,26.50),(0.97,26.52),
    (0.95,26.57),(0.99,26.60),(0.93,26.63),
]

panels_data = [b293, b240, b012, b407, b379, b384]

x_tick_values = [0, 1, 2, 3]
x_tick_labels = ["0", "1", "2", "3"]
y_tick_values = [22, 24, 26]
y_tick_labels = ["22", "24", "26"]
x_title = "V\u2212I"
y_title = "V"

# ---------------- layout geometry (page has an 8px body margin) ----------------
OFF = 8
W = H = 1148 - 2 * OFF
col_px = [(124, 445), (445, 765), (765, 1088)]
row_px = [(63, 544), (544, 1024)]
x_range = [-1.0, 3.47]
y_range = [27.9, 21.5]
FONT = "DejaVu Serif"

fig = go.Figure()
layout = dict(
    width=W, height=H, margin=dict(l=0, r=0, t=0, b=0),
    plot_bgcolor="white", paper_bgcolor="white", showlegend=False,
    font=dict(family=FONT, color="black", size=18),
)
annotations = []

for i, pts in enumerate(panels_data):
    r, c = divmod(i, 3)
    xs = [p[0] for p in pts]
    ys = [p[1] for p in pts]
    xa = "x" if i == 0 else f"x{i+1}"
    ya = "y" if i == 0 else f"y{i+1}"
    fig.add_trace(go.Scatter(
        x=xs, y=ys, mode="markers", xaxis=xa, yaxis=ya,
        marker=dict(color="black", size=5.5, line=dict(width=0)),
        hoverinfo="skip",
    ))
    x0, x1 = [v - OFF for v in col_px[c]]
    y0, y1 = [v - OFF for v in row_px[r]]
    xkey = "xaxis" if i == 0 else f"xaxis{i+1}"
    ykey = "yaxis" if i == 0 else f"yaxis{i+1}"
    layout[xkey] = dict(
        domain=[x0 / W, x1 / W], anchor=ya, range=x_range,
        showgrid=False, zeroline=False, showline=True, linecolor="black", linewidth=1.5,
        mirror="allticks", ticks="inside", ticklen=13, tickwidth=1, tickcolor="black",
        tickmode="array", tickvals=x_tick_values, ticktext=x_tick_labels,
        showticklabels=(r == 1), ticklabelstandoff=0,
        tickfont=dict(family=FONT, size=18, color="black"),
        minor=dict(ticks="inside", ticklen=6, tickwidth=1, tickcolor="black",
                   dtick=0.2, tick0=0, showgrid=False),
    )
    layout[ykey] = dict(
        domain=[1 - y1 / H, 1 - y0 / H], anchor=xa, range=y_range,
        showgrid=False, zeroline=False, showline=True, linecolor="black", linewidth=1.5,
        mirror="allticks", ticks="inside", ticklen=13, tickwidth=1, tickcolor="black",
        tickmode="array", tickvals=y_tick_values, ticktext=y_tick_labels,
        showticklabels=(c == 0), ticklabelstandoff=6,
        tickfont=dict(family=FONT, size=18, color="black"),
        minor=dict(ticks="inside", ticklen=6, tickwidth=1, tickcolor="black",
                   dtick=0.5, tick0=22, showgrid=False),
    )
    annotations.append(dict(
        text=panel_names[i], xref=f"{xa} domain", yref=f"{ya} domain",
        x=15 / (x1 - x0), y=1 - 44 / (y1 - y0), xanchor="left", yanchor="middle",
        showarrow=False, font=dict(family=FONT, size=23, color="black"),
    ))
    if r == 1:
        annotations.append(dict(
            text=x_title, xref="paper", yref="paper",
            x=(x0 + x1) / 2 / W, y=1 - (1068 - OFF) / H, xanchor="center", yanchor="middle",
            showarrow=False, font=dict(family=FONT, size=23, color="black"),
        ))
    if c == 0:
        annotations.append(dict(
            text=y_title, xref="paper", yref="paper", textangle=-90,
            x=(71 - OFF) / W, y=1 - (y0 + y1) / 2 / H, xanchor="center", yanchor="middle",
            showarrow=False, font=dict(family=FONT, size=23, color="black"),
        ))

layout["annotations"] = annotations
fig.update_layout(**layout)
fig.write_html("out.html")
